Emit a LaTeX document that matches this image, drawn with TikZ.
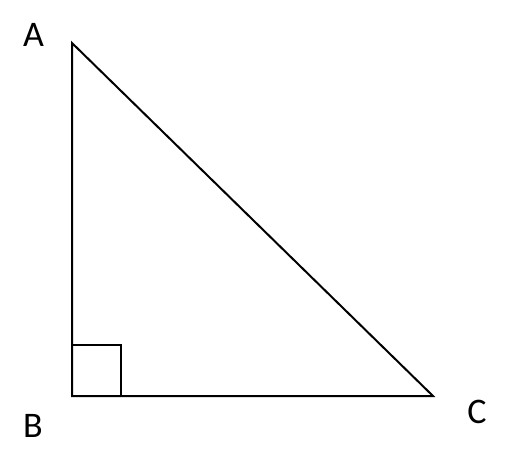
\documentclass[tikz,border=0pt]{standalone}
\usepackage{fontspec}
\setmainfont{Carlito}
\begin{document}
\begin{tikzpicture}[x=1pt,y=-1pt,
  edge/.style={line width=2pt,line join=miter},
  lbl/.style={font=\fontsize{36}{42}\selectfont,inner sep=0pt,anchor=center}]
\useasboundingbox (0,0) rectangle (516,472);
\coordinate (A) at (72,43);
\coordinate (B) at (72,396);
\coordinate (C) at (433,396);
\draw[edge] (A) -- (B) -- (C) -- cycle;
\draw[edge] (72,345) coordinate (r1) -- (121,345) coordinate (r2) -- (121,396) coordinate (r3);
\node[lbl] (la) at (33.5,35) {A};
\node[lbl] (lb) at (33,426) {B};
\node[lbl] (lc) at (477,412) {C};
\end{tikzpicture}
\end{document}
